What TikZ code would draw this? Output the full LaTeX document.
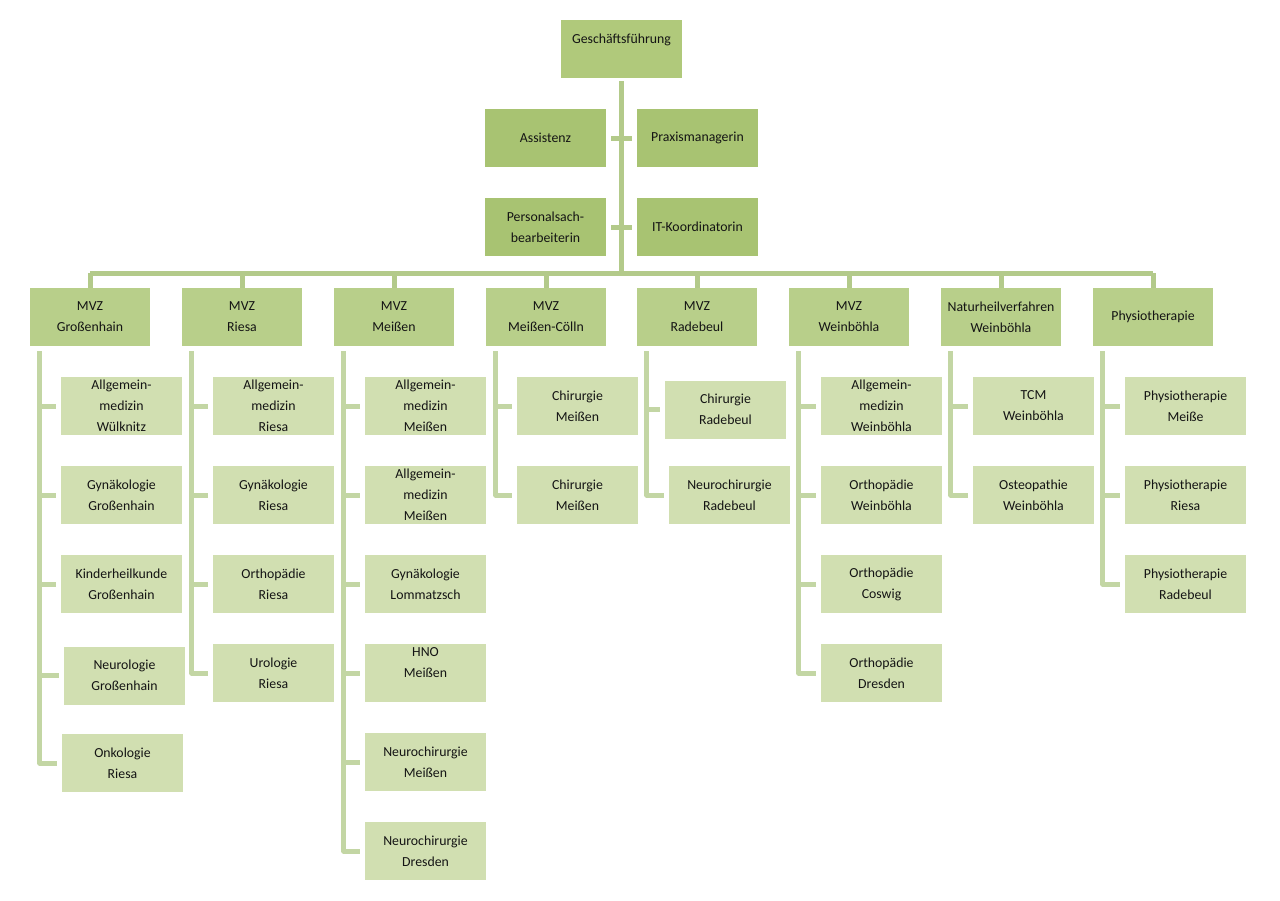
\documentclass[tikz,border=0pt]{standalone}
\usepackage{fontspec}
\setmainfont{Carlito}
\definecolor{topc}{HTML}{A8C372}
\definecolor{gfc}{HTML}{B0C97B}
\definecolor{midc}{HTML}{B8CF8A}
\definecolor{leafc}{HTML}{D1DFB1}
\definecolor{linec}{HTML}{B3CA8A}
\definecolor{leafline}{HTML}{C3D6A4}
\definecolor{txt}{HTML}{141414}
\tikzset{
  box/.style={rectangle, inner sep=0pt, minimum width=121pt, minimum height=58pt, align=center, text=txt, font=\fontsize{13.8}{21}\selectfont},
  topbox/.style={box, fill=topc},
  gfbox/.style={box, fill=gfc},
  midbox/.style={box, fill=midc, minimum width=120pt},
  leaf/.style={box, fill=leafc},
  conn/.style={draw=linec, line width=5pt, line join=round},
  lconn/.style={draw=leafline, line width=5pt, line join=round}
}
\begin{document}
\begin{tikzpicture}[x=1pt,y=-1pt]
\useasboundingbox[fill=white] (0,0) rectangle (1280,900);
% top
\node[gfbox] (gf) at (621.5,49) {Geschäftsführung\\\mbox{}};
\node[topbox] (as) at (545.5,138) {Assistenz};
\node[topbox] (pm) at (697.5,138) {Praxismanagerin};
\node[topbox] (ps) at (545.5,227) {Personalsach-\\bearbeiterin};
\node[topbox] (it) at (697.5,227) {IT-Koordinatorin};
% level 2
\node[midbox] (m1) at (90,317) {MVZ\\Großenhain};
\node[midbox] (m2) at (242,317) {MVZ\\Riesa};
\node[midbox] (m3) at (394,317) {MVZ\\Meißen};
\node[midbox] (m4) at (546,317) {MVZ\\Meißen-Cölln};
\node[midbox] (m5) at (697,317) {MVZ\\Radebeul};
\node[midbox] (m6) at (849,317) {MVZ\\Weinböhla};
\node[midbox] (m7) at (1001,317) {Naturheilverfahren\\Weinböhla};
\node[midbox] (m8) at (1153,317) {Physiotherapie};
% bus
\foreach \i/\x in {1/90,2/242,3/394,4/546,5/697,6/849,7/1001,8/1153}{
  \coordinate (b\i) at (\x,273);
}
\draw[conn] ([yshift=-3pt]gf.south) -- (gf.south |- b1);
\draw[conn] ([xshift=5pt]as.east) -- ([xshift=-5pt]pm.west);
\draw[conn] ([xshift=5pt]ps.east) -- ([xshift=-5pt]it.west);
\draw[conn] (b1) -- (b8);
\foreach \i in {1,...,8}{
  \draw[conn] (b\i) -- (m\i.north);
}
% leaves column 1
\node[leaf] (c11) at (121.5,406) {Allgemein-\\medizin\\Wülknitz};
\node[leaf] (c12) at (121.5,495) {Gynäkologie\\Großenhain};
\node[leaf] (c13) at (121.5,584) {Kinderheilkunde\\Großenhain};
\node[leaf] (c14) at (124.5,675.5) {Neurologie\\Großenhain};
\node[leaf] (c15) at (122.5,763) {Onkologie\\Riesa};
% column 2
\node[leaf] (c21) at (273.5,406) {Allgemein-\\medizin\\Riesa};
\node[leaf] (c22) at (273.5,495) {Gynäkologie\\Riesa};
\node[leaf] (c23) at (273.5,584) {Orthopädie\\Riesa};
\node[leaf] (c24) at (273.5,673) {Urologie\\Riesa};
% column 3
\node[leaf] (c31) at (425.5,406) {Allgemein-\\medizin\\Meißen};
\node[leaf] (c32) at (425.5,495) {Allgemein-\\medizin\\Meißen};
\node[leaf] (c33) at (425.5,584) {Gynäkologie\\Lommatzsch};
\node[leaf] (c34) at (425.5,673) {HNO\\Meißen\\\mbox{}};
\node[leaf] (c35) at (425.5,762) {Neurochirurgie\\Meißen};
\node[leaf] (c36) at (425.5,851) {Neurochirurgie\\Dresden};
% column 4
\node[leaf] (c41) at (577.5,406) {Chirurgie\\Meißen};
\node[leaf] (c42) at (577.5,495) {Chirurgie\\Meißen};
% column 5
\node[leaf] (c51) at (725.5,409.5) {Chirurgie\\Radebeul};
\node[leaf] (c52) at (729.5,495) {Neurochirurgie\\Radebeul};
% column 6
\node[leaf] (c61) at (881.5,406) {Allgemein-\\medizin\\Weinböhla};
\node[leaf] (c62) at (881.5,495) {Orthopädie\\Weinböhla};
\node[leaf] (c63) at (881.5,584) {Orthopädie\\Coswig};
\node[leaf] (c64) at (881.5,673) {Orthopädie\\Dresden};
% column 7
\node[leaf] (c71) at (1033.5,406) {TCM\\Weinböhla};
\node[leaf] (c72) at (1033.5,495) {Osteopathie\\Weinböhla};
% column 8
\node[leaf] (c81) at (1185.5,406) {Physiotherapie\\Meiße};
\node[leaf] (c82) at (1185.5,495) {Physiotherapie\\Riesa};
\node[leaf] (c83) at (1185.5,584) {Physiotherapie\\Radebeul};
% leaf connectors
\foreach \m/\last/\others in {1/c15/{c11,c12,c13,c14},2/c24/{c21,c22,c23},3/c36/{c31,c32,c33,c34,c35},4/c42/{c41},5/c52/{c51},6/c64/{c61,c62,c63},7/c72/{c71},8/c83/{c81,c82}}{
  \coordinate (l\m) at ([xshift=10pt,yshift=-5pt]m\m.south west);
  \draw[lconn] (l\m) |- ([xshift=-5pt]\last.west);
  \foreach \c in \others {
    \draw[lconn] (l\m |- \c.west) -- ([xshift=-5pt]\c.west);
  }
}
\end{tikzpicture}
\end{document}
